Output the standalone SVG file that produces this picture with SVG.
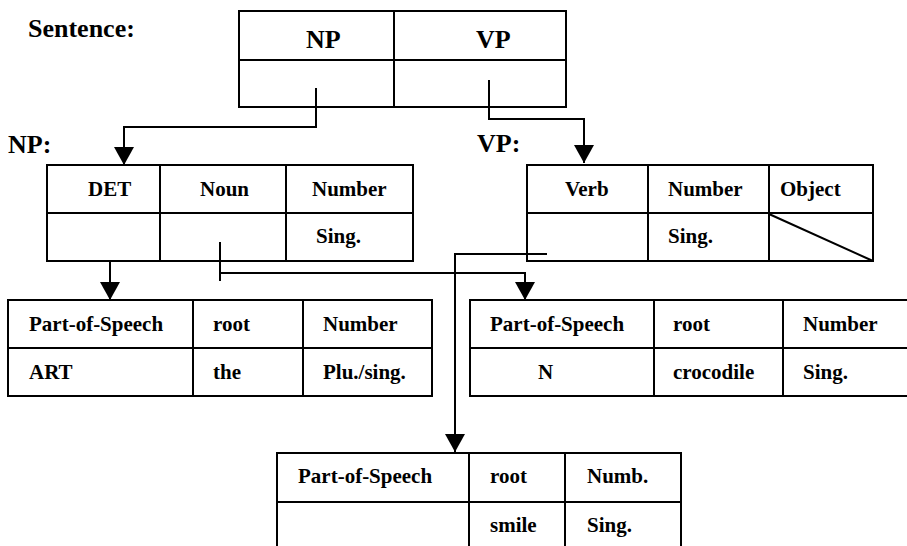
<svg xmlns="http://www.w3.org/2000/svg" width="907" height="546" viewBox="0 0 907 546">
<style>
.b{fill:none;stroke:#000;stroke-width:2}
.c{fill:none;stroke:#000;stroke-width:2}
text{font-weight:bold;fill:#000}
.L{font-size:26px}
.t{font-size:21px}
</style>
<defs>
<marker id="ah" viewBox="0 0 18 20" refX="18" refY="10" markerWidth="18" markerHeight="20" markerUnits="userSpaceOnUse" orient="auto">
<path d="M0,0 L18,10 L0,20 z" fill="#000"/>
</marker>
</defs>
<rect width="907" height="546" fill="#fff"/>
<g font-family="'Liberation Serif', 'Times New Roman', Tinos, 'DejaVu Serif', serif">
<text class="L" x="28" y="37">Sentence:</text>
<text class="L" x="8" y="153">NP:</text>
<text class="L" x="477" y="152">VP:</text>

<g id="sentence">
<rect class="b" x="239" y="11" width="327" height="96"/>
<path class="b" d="M239,60 H566 M394,11 V107"/>
<text class="L" x="306" y="48">NP</text>
<text class="L" x="476" y="48">VP</text>
</g>

<g id="np">
<rect class="b" x="47" y="165" width="366" height="96"/>
<path class="b" d="M47,213 H413 M160,165 V261 M286,165 V261"/>
<text class="t" x="88" y="196">DET</text>
<text class="t" x="200" y="196">Noun</text>
<text class="t" x="312" y="196">Number</text>
<text class="t" x="316" y="243">Sing.</text>
</g>

<g id="vp">
<rect class="b" x="527" y="165" width="346" height="96"/>
<path class="b" d="M527,213 H873 M648,165 V261 M769,165 V261 M769,214 L873,261"/>
<text class="t" x="565" y="196">Verb</text>
<text class="t" x="668" y="196">Number</text>
<text class="t" x="780" y="196">Object</text>
<text class="t" x="668" y="243">Sing.</text>
</g>

<g id="det-word">
<rect class="b" x="8" y="300" width="424" height="96"/>
<path class="b" d="M8,348 H432 M193,300 V396 M303,300 V396"/>
<text class="t" x="29" y="331">Part-of-Speech</text>
<text class="t" x="213" y="331">root</text>
<text class="t" x="323" y="331">Number</text>
<text class="t" x="29" y="379">ART</text>
<text class="t" x="213" y="379">the</text>
<text class="t" x="323" y="379">Plu./sing.</text>
</g>

<g id="noun-word">
<path class="b" d="M908,300 H470 V396 H908 M470,348 H908 M654,300 V396 M783,300 V396"/>
<text class="t" x="490" y="331">Part-of-Speech</text>
<text class="t" x="673" y="331">root</text>
<text class="t" x="803" y="331">Number</text>
<text class="t" x="538" y="379">N</text>
<text class="t" x="673" y="379">crocodile</text>
<text class="t" x="803" y="379">Sing.</text>
</g>

<g id="verb-word">
<path class="b" d="M277,547 V453 H681 V547 M277,502 H681 M469,453 V547 M565,453 V547"/>
<text class="t" x="298" y="483">Part-of-Speech</text>
<text class="t" x="490" y="483">root</text>
<text class="t" x="587" y="483">Numb.</text>
<text class="t" x="490" y="532">smile</text>
<text class="t" x="587" y="532">Sing.</text>
</g>
</g>

<g id="connectors">
<path class="c" d="M316,88 V127 H124 V165" marker-end="url(#ah)"/>
<path class="c" d="M489,80 V119 H584 V163" marker-end="url(#ah)"/>
<path class="c" d="M110,261 V300" marker-end="url(#ah)"/>
<path class="c" d="M220,242 V281"/>
<path class="c" d="M220,273 H525 V300" marker-end="url(#ah)"/>
<path class="c" d="M547,254 H455 V452" marker-end="url(#ah)"/>
</g>
</svg>
